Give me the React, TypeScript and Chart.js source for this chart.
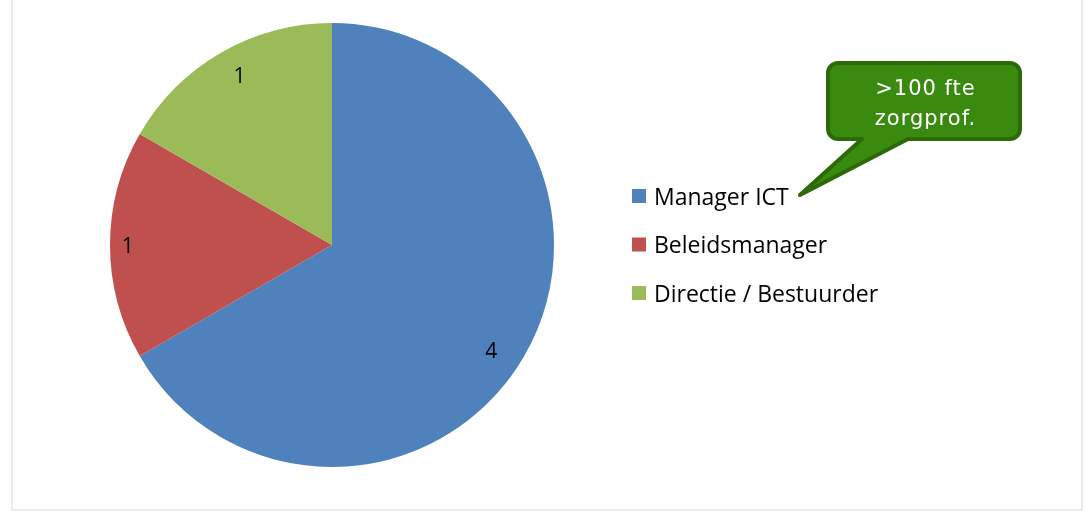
import { useEffect, useRef } from "react";
import { Chart, registerables } from "chart.js";

Chart.register(...registerables);

const categories = ["Manager ICT", "Beleidsmanager", "Directie / Bestuurder"];
const values = [4, 1, 1];
const sliceColors = ["#4F81BD", "#C0504D", "#9BBB59"];
const calloutLines = [">100 fte", "zorgprof."];

// label placement tweaks (radial fraction, dx, dy) per slice
const labelRadius = [0.86, 0.92, 0.86];
const labelShift = [
  [-6, 12],
  [0, 2],
  [3, -3],
];

const overlayPlugin = {
  id: "overlay",
  afterDatasetsDraw(chart: any) {
    const ctx: CanvasRenderingContext2D = chart.ctx;
    ctx.save();

    // outer frame
    ctx.strokeStyle = "#ececec";
    ctx.lineWidth = 2;
    ctx.beginPath();
    ctx.moveTo(12, 0);
    ctx.lineTo(12, 510);
    ctx.lineTo(1082, 510);
    ctx.lineTo(1082, 0);
    ctx.stroke();

    // value labels
    const meta = chart.getDatasetMeta(0);
    ctx.fillStyle = "#000";
    ctx.font = "21px 'Open Sans'";
    ctx.textAlign = "center";
    ctx.textBaseline = "middle";
    meta.data.forEach((arc: any, i: number) => {
      const p = arc.getProps(["x", "y", "startAngle", "endAngle", "outerRadius"], true);
      const mid = (p.startAngle + p.endAngle) / 2;
      const r = p.outerRadius * labelRadius[i];
      ctx.fillText(
        String(values[i]),
        p.x + Math.cos(mid) * r + labelShift[i][0],
        p.y + Math.sin(mid) * r + labelShift[i][1]
      );
    });

    // legend
    ctx.textAlign = "left";
    ctx.textBaseline = "alphabetic";
    ctx.font = "23px 'Open Sans'";
    categories.forEach((c, i) => {
      const cy = 196 + i * 48.5;
      ctx.fillStyle = sliceColors[i];
      ctx.fillRect(632, cy - 7, 14, 14);
      ctx.fillStyle = "#000";
      ctx.fillText(c, 654, cy + 8.5);
    });

    // callout
    const L = 828, R = 1020, T = 63, B = 139, rad = 10;
    ctx.beginPath();
    ctx.moveTo(L + rad, T);
    ctx.lineTo(R - rad, T);
    ctx.arcTo(R, T, R, T + rad, rad);
    ctx.lineTo(R, B - rad);
    ctx.arcTo(R, B, R - rad, B, rad);
    ctx.lineTo(908, B);
    ctx.lineTo(800, 195);
    ctx.lineTo(862, B);
    ctx.lineTo(L + rad, B);
    ctx.arcTo(L, B, L, B - rad, rad);
    ctx.lineTo(L, T + rad);
    ctx.arcTo(L, T, L + rad, T, rad);
    ctx.closePath();
    ctx.fillStyle = "#3A8A10";
    ctx.fill();
    ctx.lineJoin = "round";
    ctx.lineWidth = 4;
    ctx.strokeStyle = "#2B6A07";
    ctx.stroke();

    ctx.fillStyle = "#fff";
    ctx.font = "21px 'DejaVu Sans'";
    (ctx as any).letterSpacing = "1px";
    ctx.textAlign = "center";
    calloutLines.forEach((t, i) => {
      ctx.fillText(t, 925.5, 95 + i * 30);
    });

    ctx.restore();
  },
};

export default function App() {
  const ref = useRef<HTMLCanvasElement>(null);
  useEffect(() => {
    document.body.style.margin = "0";
    const chart = new Chart(ref.current!, {
      type: "pie",
      data: {
        labels: categories,
        datasets: [
          {
            data: values,
            backgroundColor: sliceColors,
            borderWidth: 0,
          },
        ],
      },
      options: {
        animation: false,
        responsive: false,
        devicePixelRatio: 1,
        layout: { padding: { left: 110, right: 532, top: 23, bottom: 45 } },
        plugins: {
          legend: { display: false },
          tooltip: { enabled: false },
        },
      },
      plugins: [overlayPlugin],
    });
    return () => chart.destroy();
  }, []);
  return (
    <div style={{ width: 1086, height: 512, background: "#fff" }}>
      <canvas ref={ref} width={1086} height={512} />
    </div>
  );
}
